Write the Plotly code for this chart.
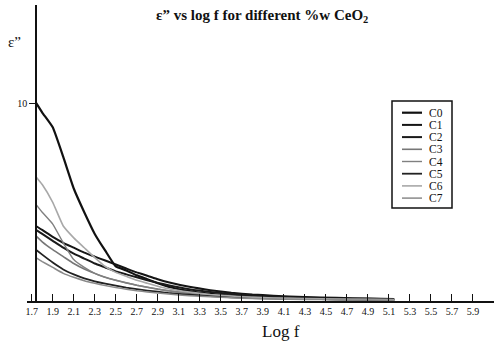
import plotly.graph_objects as go

log_f = [1.74, 1.8, 1.9, 2.0, 2.1, 2.2, 2.3, 2.4, 2.5, 2.6, 2.7, 2.8, 2.9, 3.0,
         3.2, 3.4, 3.6, 3.8, 4.0, 4.3, 4.6, 4.9, 5.15]

c0 = [10.05, 9.55, 8.8, 7.3, 5.7, 4.5, 3.4, 2.55, 1.75, 1.55, 1.3, 1.1, 0.9, 0.72,
      0.5, 0.36, 0.27, 0.2, 0.16, 0.12, 0.1, 0.08, 0.06]
c1 = [3.8, 3.6, 3.25, 2.95, 2.7, 2.45, 2.25, 2.05, 1.85, 1.65, 1.45, 1.28, 1.1, 0.95,
      0.72, 0.55, 0.42, 0.33, 0.27, 0.2, 0.16, 0.13, 0.1]
c2 = [3.6, 3.4, 3.05, 2.7, 2.4, 2.15, 1.9, 1.7, 1.5, 1.35, 1.2, 1.05, 0.92, 0.8,
      0.6, 0.46, 0.36, 0.28, 0.22, 0.17, 0.13, 0.11, 0.09]
c3 = [3.3, 3.0, 2.6, 2.25, 1.9, 1.62, 1.4, 1.2, 1.05, 0.92, 0.8, 0.7, 0.6, 0.52,
      0.4, 0.3, 0.23, 0.18, 0.14, 0.11, 0.09, 0.07, 0.06]
c4 = [4.9, 4.5, 3.9, 2.95, 2.1, 1.7, 1.4, 1.2, 1.05, 0.92, 0.8, 0.7, 0.6, 0.52,
      0.4, 0.3, 0.23, 0.18, 0.14, 0.11, 0.09, 0.07, 0.06]
c5 = [2.6, 2.35, 1.95, 1.6, 1.35, 1.15, 1.0, 0.88, 0.78, 0.68, 0.6, 0.53, 0.47, 0.41,
      0.32, 0.25, 0.19, 0.15, 0.12, 0.1, 0.08, 0.06, 0.05]
c6 = [6.3, 5.9, 5.0, 3.8, 3.2, 2.7, 2.2, 1.75, 1.45, 1.25, 1.05, 0.9, 0.75, 0.62,
      0.45, 0.33, 0.25, 0.19, 0.15, 0.12, 0.1, 0.08, 0.07]
c7 = [2.2, 2.0, 1.7, 1.4, 1.2, 1.03, 0.9, 0.78, 0.68, 0.6, 0.52, 0.46, 0.4, 0.35,
      0.27, 0.21, 0.16, 0.13, 0.1, 0.08, 0.06, 0.05, 0.04]

names = ["C0", "C1", "C2", "C3", "C4", "C5", "C6", "C7"]
series = [c0, c1, c2, c3, c4, c5, c6, c7]
colors = ["#111111", "#151515", "#1a1a1a", "#777777", "#808080", "#222222", "#a8a8a8", "#8a8a8a"]
widths = [2.2, 2.0, 2.0, 1.6, 1.4, 1.8, 1.6, 1.5]

x_ticks = [round(1.7 + 0.2 * i, 1) for i in range(22)]

SERIF = "Liberation Serif"
W, H = 494, 342
ML, MR, MT, MB = 27, 0, 5, 41
PW, PH = W - ML - MR, H - MT - MB


def px(xp):
    return (xp - ML) / PW


def py(yp):
    return (H - MB - yp) / PH


fig = go.Figure()
for n, s, c, w in zip(names, series, colors, widths):
    fig.add_trace(go.Scatter(x=log_f, y=s, mode="lines", name=n,
                             line=dict(color=c, width=w, shape="spline", smoothing=0.4),
                             showlegend=False))

shapes = []
annotations = []
# legend box
shapes.append(dict(type="rect", xref="paper", yref="paper",
                   x0=px(392), x1=px(452), y0=py(208), y1=py(101),
                   line=dict(color="#111", width=1.5), fillcolor="white"))
for i, (n, c, w) in enumerate(zip(names, colors, widths)):
    yy = 112.7 + i * 12.2
    shapes.append(dict(type="line", xref="paper", yref="paper",
                       x0=px(402), x1=px(422), y0=py(yy), y1=py(yy),
                       line=dict(color=c, width=w)))
    annotations.append(dict(text=n, xref="paper", yref="paper", x=px(427), y=py(yy),
                            xanchor="left", yanchor="middle", showarrow=False,
                            font=dict(family=SERIF, size=11.5, color="#111")))

annotations.append(dict(text="ε” vs log f for different %w CeO<sub>2</sub>",
                        xref="paper", yref="paper", x=px(262), y=py(16),
                        xanchor="center", yanchor="middle", showarrow=False,
                        font=dict(family=SERIF, size=15, color="#111", weight="bold")))
annotations.append(dict(text="ε”", xref="paper", yref="paper", x=px(14), y=py(42),
                        xanchor="center", yanchor="middle", showarrow=False,
                        font=dict(family=SERIF, size=15, color="#111")))
annotations.append(dict(text="Log f", xref="paper", yref="paper", x=px(281), y=py(331),
                        xanchor="center", yanchor="middle", showarrow=False,
                        font=dict(family=SERIF, size=17, color="#111")))

fig.update_layout(
    width=W, height=H,
    margin=dict(l=ML, r=MR, t=MT, b=MB),
    paper_bgcolor="white", plot_bgcolor="white",
    showlegend=False,
    shapes=shapes, annotations=annotations,
    xaxis=dict(range=[1.655, 6.1], tickvals=x_ticks,
               ticktext=[f"{v:.1f}" for v in x_ticks],
               showline=True, linecolor="#111", linewidth=1.5,
               ticks="inside", ticklen=7, tickcolor="#111", tickwidth=1.3,
               showgrid=False, zeroline=False,
               tickfont=dict(family=SERIF, size=10, color="#111")),
    yaxis=dict(range=[0, 15], tickvals=[10], ticktext=["10"],
               anchor="free", position=px(36),
               showline=True, linecolor="#111", linewidth=1.5,
               ticks="outside", ticklen=6, tickcolor="#111", tickwidth=1.3,
               showgrid=False, zeroline=False,
               tickfont=dict(family=SERIF, size=10, color="#111")),
)

fig.write_html("out.html")
